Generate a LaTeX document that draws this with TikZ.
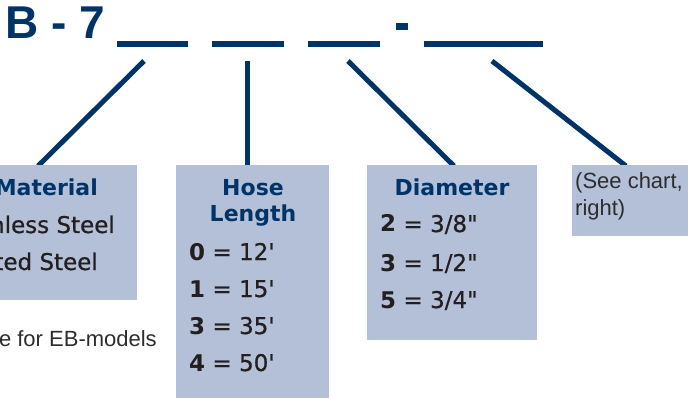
\documentclass[tikz,border=0pt]{standalone}
\usepackage{fontspec}
\setmainfont{Liberation Sans}
\newfontfamily\dejavu[Ligatures=TeXOff]{DejaVu Sans}
\newfontfamily\dejamed[Ligatures=TeXOff,FakeBold=0.7]{DejaVu Sans}
\definecolor{navy}{RGB}{0,52,104}
\definecolor{boxfill}{RGB}{180,192,215}
\definecolor{ink}{RGB}{35,31,32}
\definecolor{thin}{RGB}{45,45,45}
\begin{document}
\begin{tikzpicture}[x=1pt,y=-1pt,
  panel/.style={fill=boxfill, draw=none, inner sep=0pt, outer sep=0pt, anchor=north west, rectangle},
  link/.style={draw=navy, line width=5pt},
  title/.style={font=\bfseries\fontsize{46}{50}\selectfont, text=navy, inner sep=0pt, anchor=base west},
  head/.style={font=\dejavu\bfseries\fontsize{22}{26}\selectfont, text=navy, inner sep=0pt, anchor=base},
  item/.style={font=\dejamed\fontsize{23}{27}\selectfont, text=ink, inner sep=0pt, anchor=base west},
  mitem/.style={font=\dejamed\fontsize{23}{27}\selectfont, text=ink, inner sep=0pt, anchor=base east},
  note/.style={font=\fontsize{22}{26}\selectfont, text=thin, inner sep=0pt},
]
\useasboundingbox (0,0) rectangle (688,398);
\clip (0,0) rectangle (688,398);

% title and code blanks
\node[title] (code) at (5,39) {B - 7};
\fill[navy] (117,41) rectangle (188,47);
\fill[navy] (212,41) rectangle (284,47);
\fill[navy] (308,41) rectangle (380,47);
\fill[navy] (396,23) rectangle (408,30);
\fill[navy] (424,41) rectangle (543,47);

% connector end points
\coordinate (s1) at (144,61);
\coordinate (s2) at (247,61);
\coordinate (s3) at (348,61);
\coordinate (s4) at (492,61);
\coordinate (e1) at (38,166);
\coordinate (e2) at (247,166);
\coordinate (e3) at (454,166);
\coordinate (e4) at (626,166);

\draw[link] (s1) -- (e1);
\draw[link] (s2) -- (e2);
\draw[link] (s3) -- (e3);
\draw[link] (s4) -- (e4);

% panels
\node[panel, minimum width=177pt, minimum height=135pt] (mat) at (-40,165) {};
\node[panel, minimum width=153pt, minimum height=240pt] (hose) at (176,165) {};
\node[panel, minimum width=170pt, minimum height=175pt] (dia) at (367,165) {};
\node[panel, minimum width=130pt, minimum height=71pt] (see) at (572,165) {};

% material
\node[head, anchor=base east] (matT) at (98,196) {Material};
\node[mitem] (mat1) at (115,233) {Stainless Steel};
\node[mitem] (mat2) at (98,270) {Plated Steel};
\node[note, anchor=base east] (ebnote) at (157,346) {Not available for EB-models};

% hose length
\node[head] (hoseT1) at (253,196) {Hose};
\node[head] (hoseT2) at (253,222) {Length};
\node[item] (h0) at (189,260) {{\dejavu\bfseries 0} = 12'};
\node[item] (h1) at (189,297) {{\dejavu\bfseries 1} = 15'};
\node[item] (h3) at (189,334) {{\dejavu\bfseries 3} = 35'};
\node[item] (h4) at (189,371) {{\dejavu\bfseries 4} = 50'};

% diameter
\node[head] (diaT) at (452,196) {Diameter};
\node[item] (d2) at (380,232) {{\dejavu\bfseries 2} = 3/8"};
\node[item] (d3) at (380,271) {{\dejavu\bfseries 3} = 1/2"};
\node[item] (d5) at (380,308) {{\dejavu\bfseries 5} = 3/4"};

% see chart
\node[note, anchor=base west] (see1) at (575,189) {(See chart,};
\node[note, anchor=base west] (see2) at (575,215) {right)};
\end{tikzpicture}
\end{document}
